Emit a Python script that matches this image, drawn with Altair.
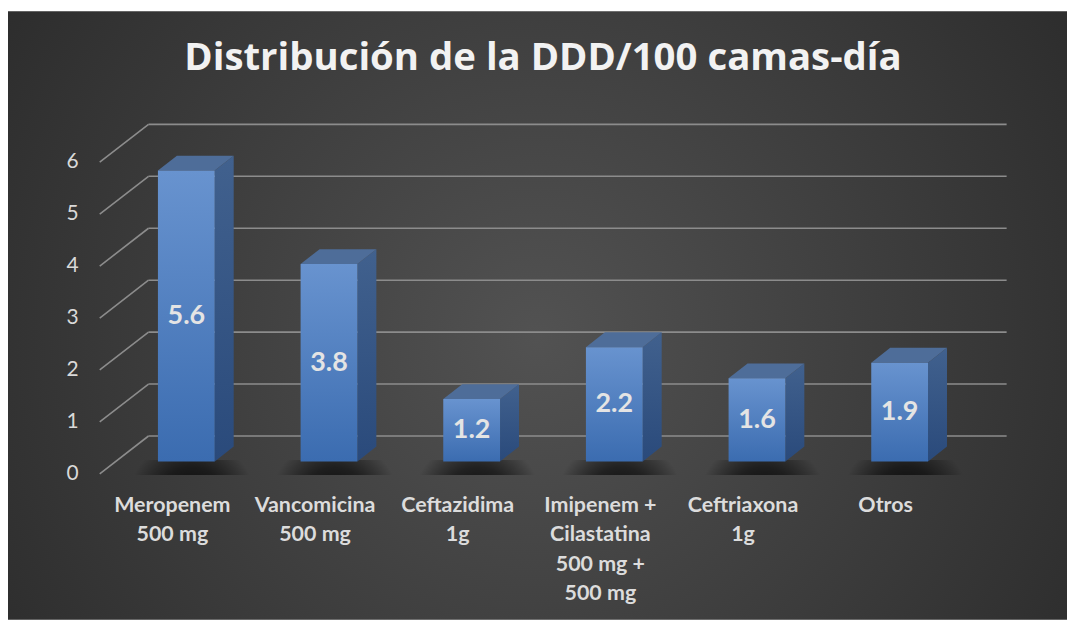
import altair as alt
import pandas as pd

# ---- data ----
categories = [
    "Meropenem\n500 mg",
    "Vancomicina\n500 mg",
    "Ceftazidima\n1g",
    "Imipenem +\nCilastatina\n500 mg +\n500 mg",
    "Ceftriaxona\n1g",
    "Otros",
]
values = [5.6, 3.8, 1.2, 2.2, 1.6, 1.9]
value_labels = ["5.6", "3.8", "1.2", "2.2", "1.6", "1.9"]
y_ticks = [0, 1, 2, 3, 4, 5, 6]
title_text = "Distribución de la DDD/100 camas-día"

# ---- geometry (chart space) ----
W, H = 1063, 613
HALF = 0.199     # half bar width, in category units
DX = 0.133       # 3D depth, x (category units)
DY = 0.288       # 3D depth, y (value units)
BACK = 0.49      # back wall offset (value units)
WALL_X0, WALL_X1 = -0.265, 5.75
FRONT_X = -0.607
FRONT_DY = -0.729

xs = alt.Scale(domain=[0, 5], range=[179, 895])
ys = alt.Scale(domain=[0, 6], range=[454, 141.2])

bars = pd.DataFrame({
    "idx": list(range(len(values))),
    "cat": categories,
    "v": values,
    "lab": value_labels,
})
bars["xl"] = bars["idx"] - HALF
bars["xr"] = bars["idx"] + HALF

side_rows, top_rows = [], []
for i, v in enumerate(values):
    for t in (0, 1):
        side_rows.append({"cat": categories[i], "x": i + HALF + t * DX, "y": t * DY, "y2": v + t * DY})
        top_rows.append({"cat": categories[i], "y": v + t * DY, "x": i - HALF + t * DX, "x2": i + HALF + t * DX})
side = pd.DataFrame(side_rows)
top = pd.DataFrame(top_rows)

grid = pd.DataFrame({"v": y_ticks})
grid["yb"] = grid["v"] + BACK
grid["yf"] = grid["v"] + BACK + FRONT_DY
grid["x0"] = WALL_X0
grid["x1"] = WALL_X1
grid["xf"] = FRONT_X
grid["lab"] = grid["v"].astype(str)

one = pd.DataFrame({"a": [0]})

X = lambda f: alt.X(f, type="quantitative", scale=xs, axis=None)
Y = lambda f: alt.Y(f, type="quantitative", scale=ys, axis=None)

bg = alt.Chart(one).mark_rect(
    color=alt.RadialGradient(
        gradient="radial", x1=0.5, y1=0.52, r1=0.0, x2=0.5, y2=0.52, r2=0.75,
        stops=[alt.GradientStop(offset=0, color="#525252"),
               alt.GradientStop(offset=1, color="#232323")],
    )
).encode(x=alt.value(0), x2=alt.value(W), y=alt.value(2), y2=alt.value(H))

wall = alt.Chart(grid).mark_rule(color="#8c8c8c", strokeWidth=1.6).encode(
    x=X("x0"), x2="x1", y=Y("yb"))
diag = alt.Chart(grid).mark_rule(color="#8c8c8c", strokeWidth=1.6).encode(
    x=X("xf"), x2="x0", y=Y("yf"), y2="yb")

shadow = alt.Chart(bars).transform_calculate(
    sx0="datum.xl - 0.17", sx1="datum.xr + 0.25", sy0="-0.26", sy1="0.03"
).mark_rect(
    color=alt.RadialGradient(
        gradient="radial", x1=0.5, y1=0.8, r1=0.0, x2=0.5, y2=0.8, r2=0.55,
        stops=[alt.GradientStop(offset=0, color="rgba(0,0,0,0.9)"),
               alt.GradientStop(offset=0.55, color="rgba(0,0,0,0.55)"),
               alt.GradientStop(offset=1, color="rgba(0,0,0,0)")],
    )
).encode(x=X("sx0:Q"), x2="sx1:Q", y=Y("sy0:Q"), y2="sy1:Q")

side_face = alt.Chart(side).mark_area(
    orient="vertical",
    color=alt.LinearGradient(
        gradient="linear", x1=0, y1=0, x2=0, y2=1,
        stops=[alt.GradientStop(offset=0, color="#41618e"),
               alt.GradientStop(offset=1, color="#2a4a7b")],
    ),
).encode(x=X("x"), y=Y("y"), y2="y2", detail="cat:N")

top_face = alt.Chart(top).mark_area(orient="horizontal", color="#4e6d99").encode(
    y=Y("y"), x=X("x"), x2="x2", detail="cat:N")

front = alt.Chart(bars).mark_rect(
    color=alt.LinearGradient(
        gradient="linear", x1=0, y1=0, x2=0, y2=1,
        stops=[alt.GradientStop(offset=0, color="#6893cf"),
               alt.GradientStop(offset=1, color="#3b6cb0")],
    )
).encode(x=X("xl"), x2="xr", y=alt.Y("v", type="quantitative", scale=ys, axis=None), y2=alt.datum(0))

vlabels = alt.Chart(bars).transform_calculate(mid="datum.v / 2").mark_text(
    font="Lato", fontWeight="bold", fontSize=27, color="#e4e4e4",
    align="center", baseline="middle",
).encode(x=X("idx"), y=Y("mid:Q"), text="lab:N")

ylabels = alt.Chart(grid).transform_calculate(
    xlab="-0.797", yl="datum.v - 0.235"
).mark_text(
    font="Lato", fontSize=21, color="#d9d9d9", align="center", baseline="middle"
).encode(x=X("xlab:Q"), y=Y("yl:Q"), text="lab:N")

clabels = alt.Chart(bars).transform_calculate(cy="-0.643").mark_text(
    font="Lato", fontWeight="bold", fontSize=21.5, color="#dcdcdc",
    align="center", baseline="top", lineBreak="\n", lineHeight=29.5,
    dx=-14,
).encode(x=X("idx"), y=Y("cy:Q"), text="cat:N")

title = alt.Chart(one).mark_text(
    text=title_text, font="Open Sans", fontWeight="bold", fontSize=38.5,
    color="#f2f2f2", align="center", baseline="middle",
).encode(x=alt.value(537), y=alt.value(49))

chart = alt.layer(
    bg, wall, diag, shadow, side_face, top_face, front,
    vlabels, ylabels, clabels, title,
).properties(
    width=W, height=H, padding=0, autosize=alt.AutoSizeParams(type="none"),
    background="white",
).configure_view(stroke=None)

chart.save("out.html", embed_options={"renderer": "svg", "actions": False})
